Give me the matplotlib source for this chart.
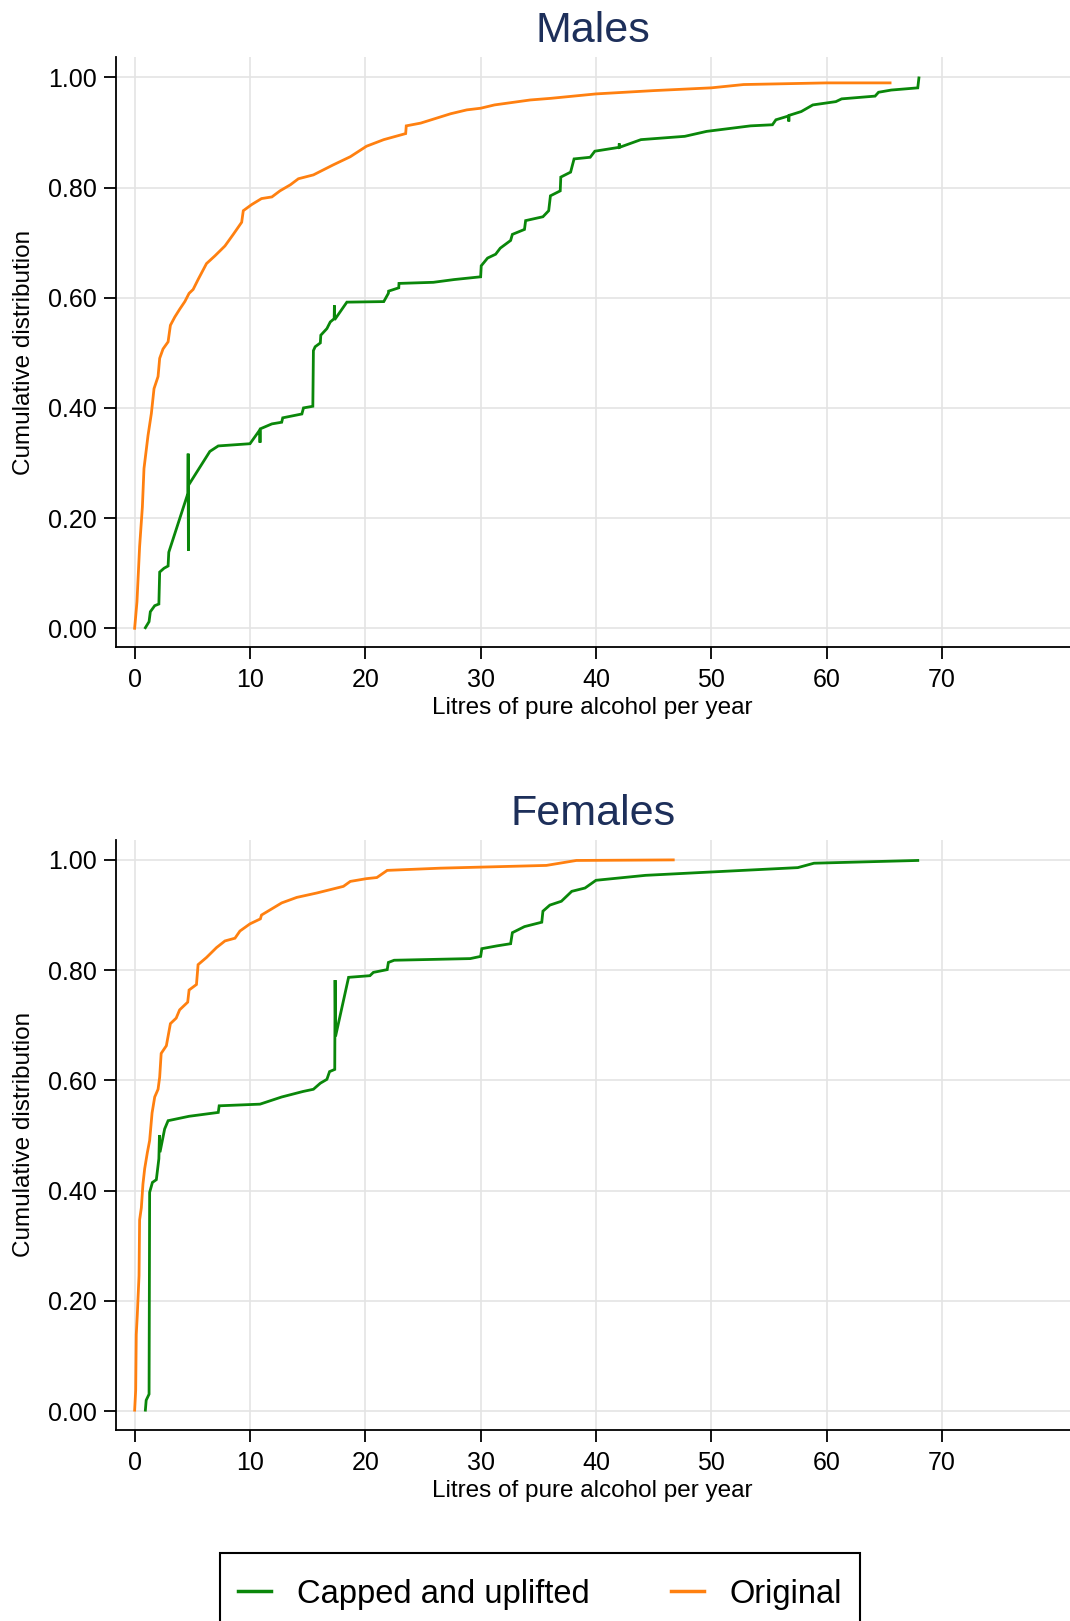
import matplotlib
matplotlib.use("Agg")
import matplotlib.pyplot as plt
from matplotlib.lines import Line2D
from matplotlib.patches import Rectangle

plt.rcParams['font.family'] = ['Liberation Sans', 'DejaVu Sans']

# ---------------- data ----------------
males_orig_x = [0, 0.2, 0.43, 0.67, 0.81, 1.16, 1.45, 1.68, 2.03, 2.17, 2.46, 2.9, 3.1, 3.48, 3.9, 4.35,
                4.72, 5.07, 5.5, 6.23, 6.96, 7.83, 8.55, 9.28, 9.42, 10.14, 11.0, 11.9, 12.6, 13.5, 14.2,
                15.5, 17.2, 18.7, 20.1, 21.6, 23.5, 23.55, 24.8, 27.4, 28.8, 30, 31.2, 34.3, 36.1, 40,
                45, 50, 52.8, 60, 65.5]
males_orig_y = [0, 0.048, 0.148, 0.22, 0.29, 0.35, 0.39, 0.435, 0.457, 0.49, 0.507, 0.52, 0.55, 0.565,
                0.579, 0.593, 0.608, 0.615, 0.633, 0.662, 0.676, 0.694, 0.715, 0.737, 0.758, 0.769, 0.78,
                0.783, 0.794, 0.805, 0.816, 0.823, 0.841, 0.856, 0.875, 0.887, 0.898, 0.912, 0.917, 0.934,
                0.941, 0.944, 0.95, 0.959, 0.962, 0.97, 0.976, 0.981, 0.987, 0.99, 0.99]

males_cap_x = [0.93, 1.25, 1.36, 1.74, 2.1, 2.17, 2.55, 2.9, 2.96, 4.62, 4.64, 4.66, 4.68, 6.52, 7.25,
               10.0, 10.85, 10.87, 10.89, 11.9, 12.75, 12.84, 14.5, 14.64, 15.45, 15.5, 15.65, 16.1,
               16.14, 16.67, 16.96, 17.3, 17.32, 17.34, 18.4, 21.6, 22.0, 22.02, 22.9, 22.92, 25.9,
               27.7, 30.0, 30.05, 30.6, 31.3, 31.7, 32.6, 32.75, 33.8, 33.9, 35.4, 35.9, 36.05, 36.9,
               36.95, 37.8, 38.1, 39.5, 39.9, 42.0, 42.02, 42.04, 43.9, 47.7, 49.6, 53.4, 55.3, 55.6,
               56.7, 56.72, 56.74, 57.8, 58.8, 60.8, 61.3, 64.2, 64.5, 65.6, 67.9, 68.0]
males_cap_y = [0.001, 0.012, 0.03, 0.041, 0.044, 0.102, 0.109, 0.113, 0.138, 0.245, 0.317, 0.141, 0.26,
               0.321, 0.331, 0.335, 0.36, 0.337, 0.362, 0.371, 0.374, 0.382, 0.389, 0.40, 0.403, 0.504,
               0.511, 0.518, 0.532, 0.544, 0.556, 0.562, 0.586, 0.56, 0.592, 0.593, 0.608, 0.612, 0.618,
               0.626, 0.628, 0.633, 0.638, 0.658, 0.672, 0.679, 0.69, 0.704, 0.715, 0.724, 0.74, 0.747,
               0.758, 0.785, 0.794, 0.819, 0.828, 0.852, 0.855, 0.866, 0.873, 0.88, 0.873, 0.887, 0.893,
               0.902, 0.912, 0.914, 0.923, 0.93, 0.92, 0.931, 0.938, 0.95, 0.956, 0.961, 0.966, 0.973,
               0.977, 0.981, 0.999]

fem_orig_x = [0, 0.09, 0.14, 0.23, 0.38, 0.43, 0.58, 0.72, 0.87, 1.1, 1.3, 1.51, 1.74, 2.03, 2.17, 2.3,
              2.75, 3.1, 3.6, 3.9, 4.6, 4.72, 5.36, 5.5, 6.23, 7.1, 7.83, 8.7, 9.13, 10.0, 10.9, 11.0,
              12.75, 14.06, 15.8, 18.1, 18.7, 20.1, 21.0, 21.9, 26.5, 35.7, 38.3, 46.7]
fem_orig_y = [0.002, 0.038, 0.139, 0.175, 0.246, 0.347, 0.369, 0.412, 0.44, 0.469, 0.491, 0.541, 0.57,
              0.584, 0.606, 0.649, 0.663, 0.703, 0.713, 0.728, 0.742, 0.764, 0.774, 0.81, 0.823, 0.841,
              0.853, 0.858, 0.871, 0.884, 0.893, 0.9, 0.922, 0.932, 0.94, 0.952, 0.961, 0.966, 0.968,
              0.981, 0.985, 0.99, 0.999, 1.0]

fem_cap_x = [0.93, 1.0, 1.25, 1.3, 1.54, 1.88, 2.1, 2.15, 2.2, 2.6, 2.9, 4.72, 7.25, 7.33, 10.87, 12.75,
             14.6, 15.5, 16.1, 16.67, 16.9, 17.35, 17.38, 17.42, 18.55, 20.4, 20.7, 21.9, 22.0, 22.5,
             29.1, 30.0, 30.1, 31.4, 32.6, 32.75, 33.8, 35.3, 35.4, 36.0, 37.0, 37.9, 39.05, 40.0, 44.3,
             49.9, 57.5, 58.9, 67.9]
fem_cap_y = [0.002, 0.02, 0.031, 0.397, 0.415, 0.42, 0.458, 0.501, 0.47, 0.512, 0.527, 0.535, 0.542,
             0.554, 0.557, 0.57, 0.58, 0.584, 0.595, 0.602, 0.616, 0.62, 0.782, 0.68, 0.787, 0.79, 0.796,
             0.801, 0.814, 0.818, 0.821, 0.825, 0.839, 0.844, 0.848, 0.868, 0.879, 0.887, 0.907, 0.918,
             0.925, 0.943, 0.949, 0.963, 0.972, 0.978, 0.986, 0.994, 0.999]

panel_titles = ["Males", "Females"]
series_labels = ["Capped and uplifted", "Original"]
x_ticks = [0, 10, 20, 30, 40, 50, 60, 70]
y_ticks = [0.0, 0.2, 0.4, 0.6, 0.8, 1.0]

GREEN = '#0a870a'
ORANGE = '#ff8010'
NAVY = '#1d2f5a'

W, H = 1070, 1621
fig = plt.figure(figsize=(W / 100, H / 100), dpi=100)

def px_axes(left, top, right, bottom):
    return fig.add_axes([left / W, 1 - bottom / H, (right - left) / W, (bottom - top) / H])

axes_boxes = [(115.5, 57, 1070, 647), (115.5, 839.5, 1070, 1430)]
title_y = [31, 814]
data = [((males_cap_x, males_cap_y), (males_orig_x, males_orig_y)),
        ((fem_cap_x, fem_cap_y), (fem_orig_x, fem_orig_y))]

for i, ax_box in enumerate(axes_boxes):
    ax = px_axes(*ax_box)
    (cx, cy), (ox, oy) = data[i]
    ax.plot(ox, oy, color=ORANGE, lw=2.0, solid_joinstyle='miter', zorder=3)
    ax.plot(cx, cy, color=GREEN, lw=2.0, solid_joinstyle='miter', zorder=4)
    ax.set_xlim(-1.66, 81.1)
    ax.set_ylim(-0.034, 1.037)
    ax.set_xticks(x_ticks)
    ax.set_yticks(y_ticks)
    ax.set_yticklabels([f"{v:.2f}" for v in y_ticks])
    ax.grid(True, color='#e4e4e4', lw=1.2, zorder=0)
    ax.set_axisbelow(True)
    for s in ['top', 'right']:
        ax.spines[s].set_visible(False)
    for s in ['left', 'bottom']:
        ax.spines[s].set_color('black')
        ax.spines[s].set_linewidth(1.3)
    ax.tick_params(axis='both', direction='out', length=8.5, width=1.3, color='black',
                   labelsize=18, labelcolor='black')
    ax.tick_params(axis='x', pad=6.5)
    ax.tick_params(axis='y', pad=5)
    ax.set_xlabel("Litres of pure alcohol per year", fontsize=17.5, labelpad=4)
    ax.set_ylabel("Cumulative distribution", fontsize=17.5, labelpad=9)
    cx_fig = ((ax_box[0] + ax_box[2]) / 2) / W
    fig.text(cx_fig, 1 - title_y[i] / H, panel_titles[i], fontsize=31, color=NAVY,
             ha='center', va='center')

# legend frame (extends past the bottom edge, as in the reference)
frame = Rectangle((220 / W, 1 - 1680 / H), 640 / W, (1680 - 1553) / H, transform=fig.transFigure,
                  facecolor='white', edgecolor='black', lw=1.5, zorder=1)
fig.patches.append(frame)

handles = [Line2D([], [], color=GREEN, lw=2.5), Line2D([], [], color=ORANGE, lw=2.5)]
leg = fig.legend(handles, series_labels, loc='center left', bbox_to_anchor=(238 / W, 1 - 1594 / H),
                 ncol=2, fontsize=23.5, frameon=False, handlelength=1.0, handletextpad=0.8,
                 columnspacing=2.5, borderpad=0, borderaxespad=0)
leg.set_zorder(2)

fig.savefig("out.png", dpi=100, facecolor='white')
